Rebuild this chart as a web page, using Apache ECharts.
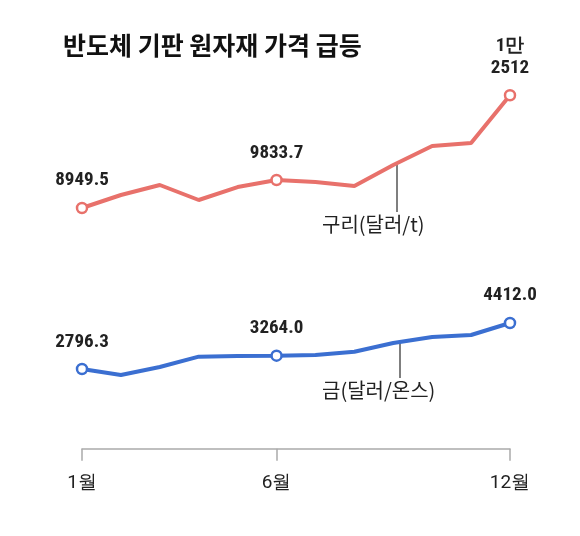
<!DOCTYPE html>
<html><head><meta charset="utf-8">
<script src="https://cdn.jsdelivr.net/npm/echarts@6/dist/echarts.min.js"></script>
<style>html,body{margin:0;padding:0;background:#fff}#c{width:580px;height:536px}</style>
</head><body><div id="c"></div>
<script>
const months = ['1월','2월','3월','4월','5월','6월','7월','8월','9월','10월','11월','12월'];
const copper = [8949.5, 9360, 9676, 9202, 9612, 9833.7, 9770, 9644, 10308, 10908, 11003, 12512];
const gold = [2796.3, 2586, 2866, 3230, 3250, 3264.0, 3290, 3400, 3710, 3920, 3990, 4412.0];
const copperLabels = {0:'8949.5', 5:'9833.7', 11:'1만\n2512'};
const goldLabels = {0:'2796.3', 5:'3264.0', 11:'4412.0'};
const shown = [0,5,11];
const chart = echarts.init(document.getElementById('c'));
function ser(name, data, color, labels, gi){
  return {type:'line', name, xAxisIndex:gi, yAxisIndex:gi, data, symbol:'circle',
    symbolSize:(v,p)=>shown.includes(p.dataIndex)?10:0,
    itemStyle:{color:'#fff', borderColor:color, borderWidth:2.5},
    lineStyle:{color, width:4}, animation:false,
    label:{show:true, position:'top', distance:10, color:'#222', fontSize:19, fontWeight:'bold',
      fontFamily:'Roboto Condensed, Roboto, sans-serif', lineHeight:22,
      formatter:p=>labels[p.dataIndex]||''}};
}
const axX = (show, gi)=>({type:'category', gridIndex:gi, data:months, boundaryGap:false, show,
  axisLine:{lineStyle:{color:'#aaa', width:1.5}},
  axisTick:{length:12, lineStyle:{color:'#aaa', width:1.5}, interval:(i)=>shown.includes(i)},
  axisLabel:{interval:(i)=>shown.includes(i), color:'#222', fontSize:19, margin:14,
    fontFamily:'Roboto, sans-serif'}});
chart.setOption({
  animation:false,
  title:{text:'반도체 기판 원자재 가격 급등', left:58, top:28,
    textStyle:{fontSize:25, fontWeight:'bold', color:'#111', fontFamily:'Noto Sans CJK KR'}},
  grid:[{left:82,right:70,top:60,height:400},{left:82,right:70,top:60,height:400}],
  xAxis:[axX(false,0),axX(true,1)],
  yAxis:[{type:'value', min:986, max:13626, show:false, gridIndex:0},
         {type:'value', min:-397, max:13643, show:false, gridIndex:1}],
  series:[ser('구리', copper, '#e8716b', copperLabels, 0), ser('금', gold, '#3b6fd1', goldLabels, 1)],
  graphic:[
    {type:'line', shape:{x1:397,y1:165,x2:397,y2:212}, style:{stroke:'#555', lineWidth:1.5}},
    {type:'text', left:322, top:214, style:{text:'구리(달러/t)', fontSize:20, fill:'#222', fontFamily:'Noto Sans CJK KR'}},
    {type:'line', shape:{x1:400,y1:343,x2:400,y2:378}, style:{stroke:'#555', lineWidth:1.5}},
    {type:'text', left:322, top:380, style:{text:'금(달러/온스)', fontSize:20, fill:'#222', fontFamily:'Noto Sans CJK KR'}}
  ]
});
</script></body></html>
